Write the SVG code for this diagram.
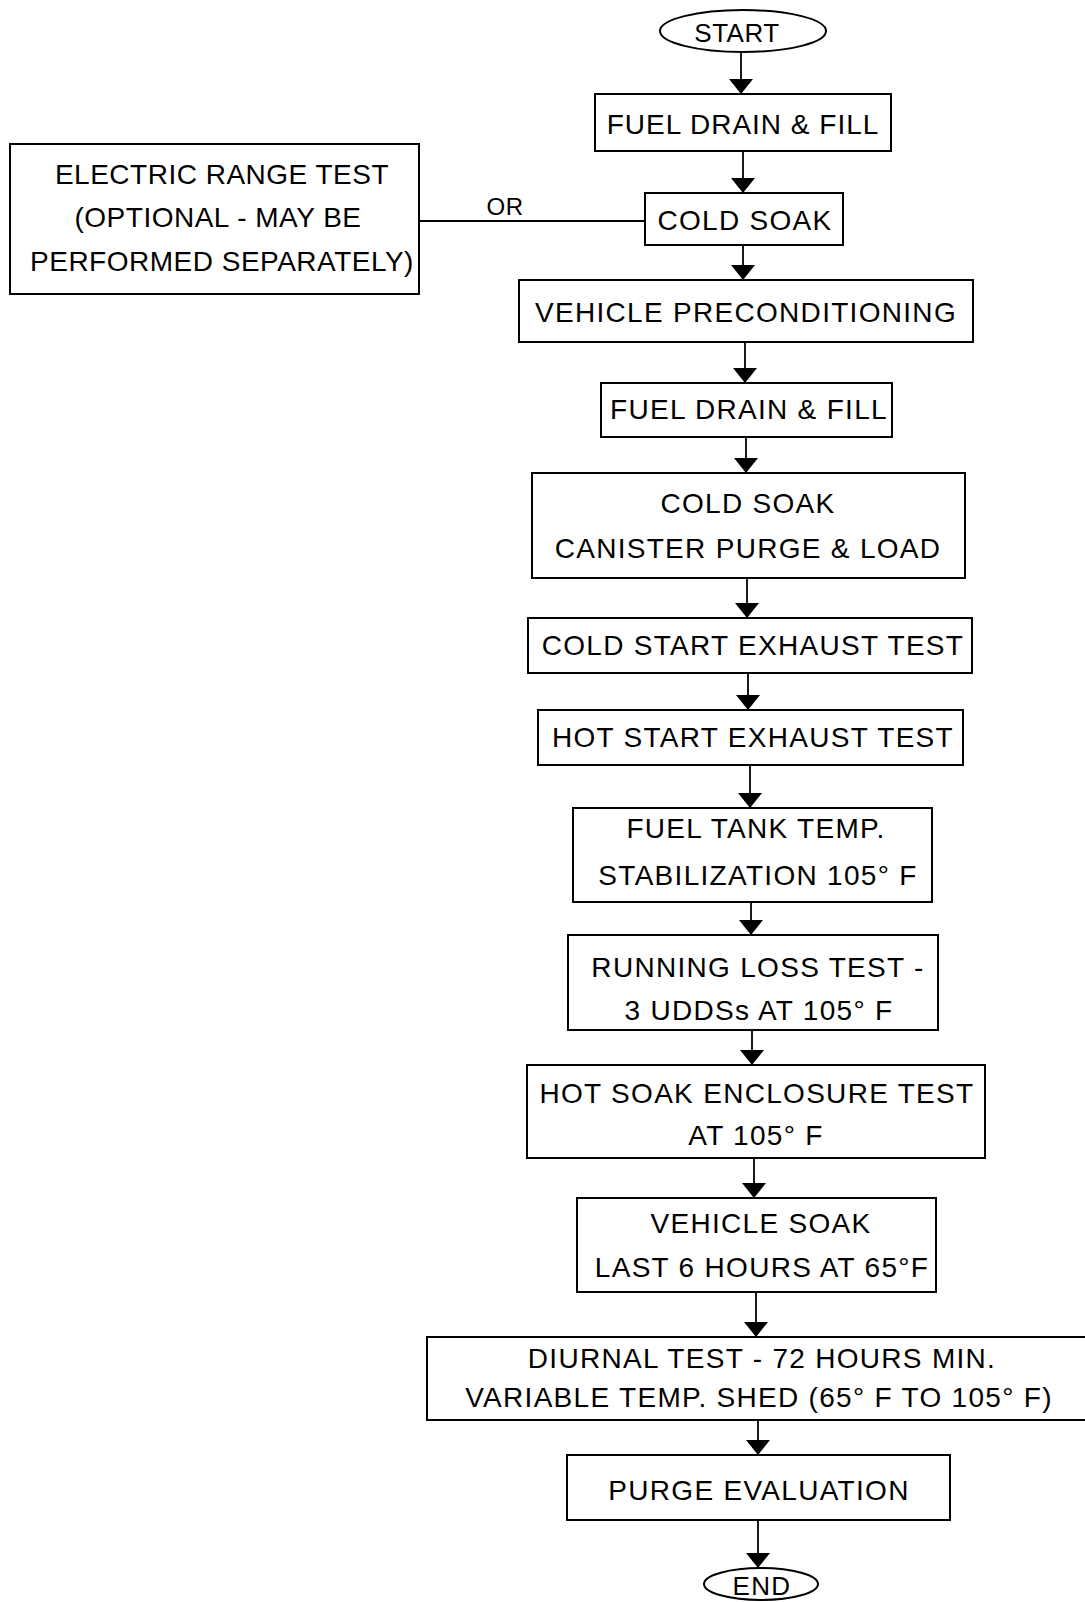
<svg xmlns="http://www.w3.org/2000/svg" width="1085" height="1602" viewBox="0 0 1085 1602">
<style>
.box{fill:none;stroke:#000;stroke-width:2}
.t{font-family:"Liberation Sans",Arial,sans-serif;font-size:28px;fill:#000;text-anchor:middle;letter-spacing:1.3px}
.e{font-family:"Liberation Sans",Arial,sans-serif;font-size:28px;fill:#000;text-anchor:middle;letter-spacing:0.5px}
.c{fill:none;stroke:#000;stroke-width:1.8}
</style>
<defs>
<marker id="ah" viewBox="0 -12 15 24" refX="15" refY="0" markerWidth="15" markerHeight="24" markerUnits="userSpaceOnUse" orient="auto">
<path d="M0,-12 L15,0 L0,12 Z" fill="#000"/>
</marker>
</defs>
<rect width="1085" height="1602" fill="#fff"/>
<g id="connectors">
<path class="c" d="M741,52 V94" marker-end="url(#ah)"/>
<path class="c" d="M743,151 V193" marker-end="url(#ah)"/>
<path class="c" d="M419,221 H645"/>
<path class="c" d="M743,245 V280" marker-end="url(#ah)"/>
<path class="c" d="M745,342 V383" marker-end="url(#ah)"/>
<path class="c" d="M746,437 V473" marker-end="url(#ah)"/>
<path class="c" d="M747,578 V618" marker-end="url(#ah)"/>
<path class="c" d="M748,673 V710" marker-end="url(#ah)"/>
<path class="c" d="M750,765 V808" marker-end="url(#ah)"/>
<path class="c" d="M751,902 V935" marker-end="url(#ah)"/>
<path class="c" d="M752,1030 V1065" marker-end="url(#ah)"/>
<path class="c" d="M754,1158 V1198" marker-end="url(#ah)"/>
<path class="c" d="M756,1292 V1337" marker-end="url(#ah)"/>
<path class="c" d="M758,1420 V1455" marker-end="url(#ah)"/>
<path class="c" d="M758,1520 V1568" marker-end="url(#ah)"/>
<text class="e" x="505" y="215" style="font-size:24px">OR</text>
</g>
<g id="start">
<ellipse class="box" cx="743" cy="31" rx="83" ry="21"/>
<text class="t" x="737" y="42" style="font-size:26px;letter-spacing:0.5px">START</text>
</g>
<g id="fuel1">
<rect class="box" x="595" y="94" width="296" height="57"/>
<text class="t" x="743" y="134" style="letter-spacing:1px">FUEL DRAIN &amp; FILL</text>
</g>
<g id="electric">
<rect class="box" x="10" y="144" width="409" height="150"/>
<text class="e" x="222" y="184">ELECTRIC RANGE TEST</text>
<text class="e" x="218" y="227">(OPTIONAL - MAY BE</text>
<text class="e" x="222" y="271">PERFORMED SEPARATELY)</text>
</g>
<g id="coldsoak1">
<rect class="box" x="645" y="193" width="198" height="52"/>
<text class="t" x="745" y="230">COLD SOAK</text>
</g>
<g id="vehprecond">
<rect class="box" x="519" y="280" width="454" height="62"/>
<text class="t" x="746" y="322">VEHICLE PRECONDITIONING</text>
</g>
<g id="fuel2">
<rect class="box" x="601" y="383" width="291" height="54"/>
<text class="t" x="749" y="419">FUEL DRAIN &amp; FILL</text>
</g>
<g id="coldsoak2">
<rect class="box" x="532" y="473" width="433" height="105"/>
<text class="t" x="748" y="513">COLD SOAK</text>
<text class="t" x="748" y="558">CANISTER PURGE &amp; LOAD</text>
</g>
<g id="coldstart">
<rect class="box" x="528" y="618" width="444" height="55"/>
<text class="t" x="753" y="655">COLD START EXHAUST TEST</text>
</g>
<g id="hotstart">
<rect class="box" x="538" y="710" width="425" height="55"/>
<text class="t" x="753" y="747">HOT START EXHAUST TEST</text>
</g>
<g id="fueltank">
<rect class="box" x="573" y="808" width="359" height="94"/>
<text class="t" x="756" y="838">FUEL TANK TEMP.</text>
<text class="t" x="758" y="885">STABILIZATION 105° F</text>
</g>
<g id="runningloss">
<rect class="box" x="568" y="935" width="370" height="95"/>
<text class="t" x="758" y="977">RUNNING LOSS TEST -</text>
<text class="t" x="759" y="1020">3 UDDSs AT 105° F</text>
</g>
<g id="hotsoak">
<rect class="box" x="527" y="1065" width="458" height="93"/>
<text class="t" x="757" y="1103">HOT SOAK ENCLOSURE TEST</text>
<text class="t" x="756" y="1145">AT 105° F</text>
</g>
<g id="vehsoak">
<rect class="box" x="577" y="1198" width="359" height="94"/>
<text class="t" x="761" y="1233">VEHICLE SOAK</text>
<text class="t" x="762" y="1277">LAST 6 HOURS AT 65°F</text>
</g>
<g id="diurnal">
<rect class="box" x="427" y="1337" width="680" height="83"/>
<text class="t" x="762" y="1368">DIURNAL TEST - 72 HOURS MIN.</text>
<text class="t" x="759" y="1407">VARIABLE TEMP. SHED (65° F TO 105° F)</text>
</g>
<g id="purge">
<rect class="box" x="567" y="1455" width="383" height="65"/>
<text class="t" x="759" y="1500">PURGE EVALUATION</text>
</g>
<g id="end">
<ellipse class="box" cx="761" cy="1584" rx="57" ry="16"/>
<text class="t" x="762" y="1595" style="font-size:26px">END</text>
</g>
</svg>
